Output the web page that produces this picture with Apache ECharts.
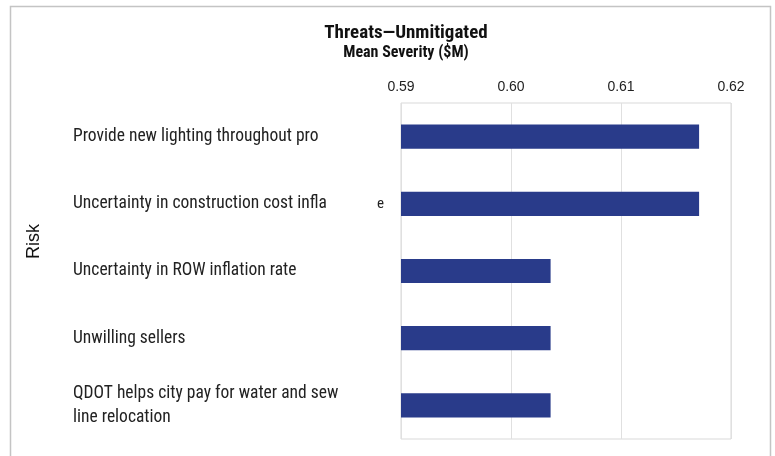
<!DOCTYPE html>
<html><head><meta charset="utf-8">
<script src="https://cdn.jsdelivr.net/npm/echarts@6/dist/echarts.min.js"></script>
<style>html,body{margin:0;padding:0;background:#fff}#c{width:775px;height:456px}</style>
</head><body><div id="c"></div>
<script>
const categories = [
  "Provide new lighting throughout pro",
  "Uncertainty in construction cost infla",
  "Uncertainty in ROW inflation rate",
  "Unwilling sellers",
  "QDOT helps city pay for water and sew\nline relocation"
];
const severity = [0.6171, 0.6171, 0.6036, 0.6036, 0.6036];
const xTicks = { min: 0.59, max: 0.62, interval: 0.01 };

const narrow = '"Liberation Sans Narrow","Roboto Condensed","Liberation Sans",sans-serif';
const chart = echarts.init(document.getElementById('c'), null, {renderer: 'canvas'});
chart.setOption({
  animation: false,
  backgroundColor: '#fff',
  title: {
    text: 'Threats\u2014Unmitigated',
    subtext: 'Mean Severity ($M)',
    left: 401, top: 19, textAlign: 'center', itemGap: 2,
    textStyle: {fontFamily: narrow, fontWeight: 'bold', fontSize: 19, color: '#111'},
    subtextStyle: {fontFamily: narrow, fontWeight: 'bold', fontSize: 16, color: '#111'}
  },
  graphic: [
    {type: 'rect', shape: {x: 10.5, y: 6.5, width: 760, height: 460}, style: {fill: 'none', stroke: '#c4c4c4', lineWidth: 1.5}, z: -1},
    {type: 'text', left: 25, top: 224, rotation: Math.PI/2,
     style: {text: 'Risk', fontFamily: '"Liberation Sans",Arial,sans-serif', fontSize: 18, fill: '#111'}}
  ],
  grid: {left: 401, right: 44, top: 103, bottom: 17, show: true, borderColor: '#d9d9d9', borderWidth: 1},
  xAxis: {
    type: 'value', position: 'top', min: xTicks.min, max: xTicks.max, interval: xTicks.interval,
    axisLine: {show: false}, axisTick: {show: false},
    splitLine: {lineStyle: {color: '#e0e0e0', width: 1}},
    axisLabel: {margin: 9, fontFamily: '"Liberation Sans",Arial,sans-serif', fontSize: 14, color: '#222',
      formatter: v => v.toFixed(2)}
  },
  yAxis: {
    type: 'category', data: categories, inverse: true,
    axisLine: {show: false}, axisTick: {show: false},
    axisLabel: {align: 'left', margin: 328, fontFamily: narrow, fontSize: 17.5, color: '#222', lineHeight: 24,
      formatter: v => v === categories[1] ? '{a|' + v + '}{b|e}' : v,
      rich: {a: {fontFamily: narrow, fontSize: 17.5, color: '#222'}, b: {fontFamily: narrow, fontSize: 15, color: '#222', padding: [0,0,0,50]}}}
  },
  series: [{
    type: 'bar', data: severity, barWidth: '36%',
    itemStyle: {color: '#293b8a'}
  }]
});
</script></body></html>
